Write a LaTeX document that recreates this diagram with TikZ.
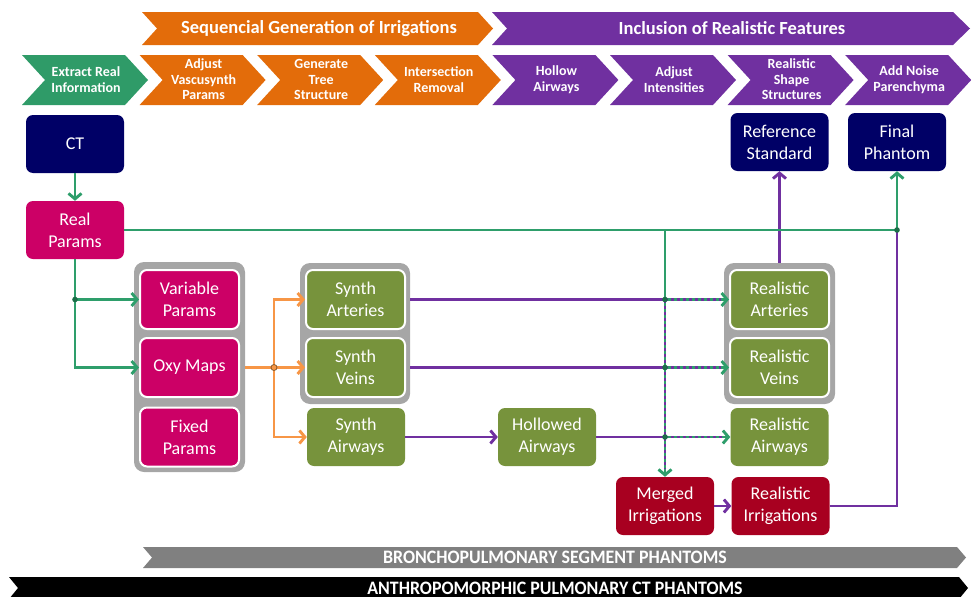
\documentclass[tikz,border=0pt]{standalone}
\usepackage{fontspec}
\setmainfont{Carlito}
\newfontfamily\barfont[FakeStretch=0.94]{Carlito}
\usetikzlibrary{arrows.meta}
\definecolor{chgreen}{RGB}{47,155,104}
\definecolor{chorange}{RGB}{227,108,10}
\definecolor{chpurple}{RGB}{112,48,160}
\definecolor{navy}{RGB}{0,0,102}
\definecolor{magent}{RGB}{204,0,102}
\definecolor{olive}{RGB}{119,147,60}
\definecolor{darkred}{RGB}{168,0,32}
\definecolor{groupgray}{RGB}{166,166,166}
\definecolor{bargray}{RGB}{128,128,128}
\definecolor{linegreen}{RGB}{46,158,107}
\definecolor{linepurple}{RGB}{112,48,160}
\definecolor{lineorange}{RGB}{247,150,70}
\definecolor{dotgreen}{RGB}{28,110,72}
\tikzset{
  >={Straight Barb[length=5.5pt,width=13pt]},
  box/.style={rounded corners=7pt, minimum width=98pt, minimum height=58pt, inner sep=0pt, align=center, text=white, font=\fontsize{18}{22}\selectfont},
  inbox/.style={box, draw=white, line width=2pt, minimum width=99pt, minimum height=59pt},
  group/.style={fill=groupgray, rounded corners=10pt, inner sep=0pt},
  stagetext/.style={align=center, text=white, font=\bfseries\fontsize{14}{15.5}\selectfont},
  bannertext/.style={text=white, font=\bfseries\fontsize{18.5}{20}\selectfont},
  bartext/.style={text=white, font=\barfont\bfseries\fontsize{19}{20}\selectfont},
  gline/.style={draw=linegreen, line width=2.9pt},
  pline/.style={draw=linepurple, line width=2.9pt},
  oline/.style={draw=lineorange, line width=2.9pt},
  pdash/.style={draw=linepurple, line width=2.9pt, dash pattern=on 3pt off 3pt},
}
\begin{document}
\begin{tikzpicture}[x=1pt, y=-1pt]
  \useasboundingbox (0, 0) rectangle (972, 597);
  \fill [chorange] (142, 12) -- (478, 12) -- (493, 28.5) -- (478, 45) -- (142, 45) -- (157, 28.5) -- cycle;
  \node [bannertext] (seqgen) at (319, 28.5) {Sequencial Generation of Irrigations};
  \fill [chpurple] (492, 12) -- (953, 12) -- (970, 28.5) -- (953, 45) -- (492, 45) -- (507, 28.5) -- cycle;
  \node [bannertext] (realfeat) at (732, 28.5) {Inclusion of Realistic Features};
  \foreach \i/\col/\txt in {
      0/chgreen/{Extract Real\\Information},
      1/chorange/{Adjust\\Vascusynth\\Params},
      2/chorange/{Generate\\Tree\\Structure},
      3/chorange/{Intersection\\Removal},
      4/chpurple/{Hollow\\Airways},
      5/chpurple/{Adjust\\Intensities},
      6/chpurple/{Realistic\\Shape\\Structures},
      7/chpurple/{Add Noise\\Parenchyma}} {
    \fill [\col] ({22 + 117.6*\i}, 55) -- ++(103, 0) -- ++(23, 25) -- ++(-23, 25) -- ++(-103, 0) -- ++(23, -25) -- cycle;
    \node [stagetext] (stage\i) at ({86 + 117.6*\i}, 79.5) {\txt};
  }

  \node [group, minimum width=111pt, minimum height=210pt] (paramgrp) at (189.5, 367) {};
  \node [group, minimum width=110pt, minimum height=141pt] (synthgrp) at (355, 333.5) {};
  \node [group, minimum width=111pt, minimum height=141pt] (realgrp) at (779.5, 333.5) {};

  \node [box, fill=navy] (ct) at (75, 144) {CT};
  \node [box, fill=magent] (realp) at (75, 230) {Real\\Params};
  \node [inbox, fill=magent] (varp) at (189.5, 299.5) {Variable\\Params};
  \node [inbox, fill=magent] (oxy) at (189.5, 367.5) {Oxy Maps};
  \node [inbox, fill=magent] (fixp) at (189.5, 437) {Fixed\\Params};
  \node [inbox, fill=olive] (sart) at (355.5, 299.5) {Synth\\Arteries};
  \node [inbox, fill=olive] (sveins) at (355.5, 367.5) {Synth\\Veins};
  \node [box, fill=olive] (sair) at (356, 437) {Synth\\Airways};
  \node [box, fill=olive] (hollow) at (547, 437) {Hollowed\\Airways};
  \node [inbox, fill=olive] (rart) at (779.5, 299.5) {Realistic\\Arteries};
  \node [inbox, fill=olive] (rveins) at (779.5, 367.5) {Realistic\\Veins};
  \node [box, fill=olive] (rair) at (779.5, 437) {Realistic\\Airways};
  \node [box, fill=darkred] (merged) at (665, 506) {Merged\\Irrigations};
  \node [box, fill=darkred] (rirr) at (780.5, 506) {Realistic\\Irrigations};
  \node [box, fill=navy] (refstd) at (779.5, 142) {Reference\\Standard};
  \node [box, fill=navy] (finalph) at (897, 142) {Final\\Phantom};

  \coordinate (jvar) at (realp |- varp);
  \coordinate (jorg) at (274, 367.5);
  \coordinate (jmid) at (merged |- realp.east);
  \coordinate (jart) at (merged |- sart);
  \coordinate (jvein) at (merged |- sveins);
  \coordinate (jair) at (merged |- sair);
  \coordinate (jfin) at (finalph |- realp.east);

  \draw [gline, ->] (ct) -- (realp);
  \draw [gline, ->] (realp) |- (oxy);
  \draw [gline, ->] (jvar) -- (varp);
  \fill [dotgreen] (jvar) circle (2.8pt);

  \draw [oline, ->] (paramgrp.east |- oxy) -- (sveins);
  \draw [oline, ->] (jorg) |- (sart);
  \draw [oline, ->] (jorg) |- (sair);
  \draw [fill=lineorange, draw=brown!70!black, line width=0.8pt] (jorg) circle (3pt);

  \draw [pline, ->] (realgrp) -- (refstd);
  \draw [pline] (rirr) -| (jfin);
  \draw [gline, ->] (realp) -| (finalph);
  \fill [dotgreen] (jfin) circle (2.8pt);

  \draw [pline] (synthgrp.east |- sart) -- (jart);
  \draw [pline] (synthgrp.east |- sveins) -- (jvein);
  \draw [pline, ->] (sair) -- (hollow);
  \draw [pline] (hollow) -- (jair);
  \draw [gline, ->] (jmid) -- (merged);
  \draw [pdash, shorten >=8pt] (jart) -- (merged);
  \foreach \j/\k in {jart/rart, jvein/rveins, jair/rair} {
    \draw [gline, ->] (\j) -- (\k);
    \draw [pdash, shorten >=8pt] (\j) -- (\k);
    \fill [dotgreen] (\j) circle (2.8pt);
  }
  \draw [pline, ->] (merged) -- (rirr);

  \fill [bargray] (143, 547) -- (957, 547) -- (966, 557.5) -- (957, 568) -- (143, 568) -- (152, 557.5) -- cycle;
  \node [bartext] (segbar) at (555, 557.5) {BRONCHOPULMONARY SEGMENT PHANTOMS};
  \fill [black] (9, 577) -- (959, 577) -- (968, 588) -- (959, 599) -- (9, 599) -- (18, 588) -- cycle;
  \node [bartext] (ctbar) at (555, 588) {ANTHROPOMORPHIC PULMONARY CT PHANTOMS};
\end{tikzpicture}
\end{document}
